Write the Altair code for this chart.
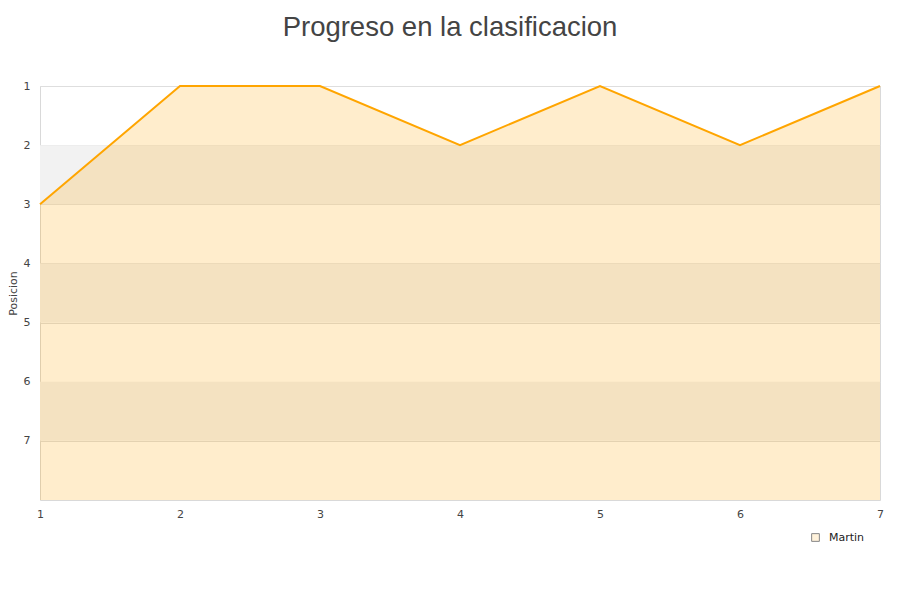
import altair as alt
import pandas as pd

jornadas = [1, 2, 3, 4, 5, 6, 7]
posiciones = [3, 1, 1, 2, 1, 2, 1]
jugador = "Martin"
band_starts = [2, 4, 6]
band_ends = [3, 5, 7]
y_ticks = [1, 2, 3, 4, 5, 6, 7]

df = pd.DataFrame({"jornada": jornadas, "posicion": posiciones})
bands = pd.DataFrame({"y1": band_starts, "y2": band_ends})
legend_df = pd.DataFrame({"jornada": [0], "posicion": [1], "jugador": [jugador]})

yscale = alt.Scale(domain=[1, 8], reverse=True, nice=False, zero=False)
xscale = alt.Scale(domain=[1, 7], nice=False, zero=False)

band_layer = alt.Chart(bands).mark_rect(color="#f2f2f2").encode(
    y=alt.Y("y1:Q", scale=yscale),
    y2="y2:Q",
    x=alt.value(0),
    x2=alt.value(840),
)

area = alt.Chart(df).mark_area(color="#ffa500", fillOpacity=0.2, line=False).encode(
    x=alt.X("jornada:Q", scale=xscale,
            axis=alt.Axis(values=jornadas, title=None, ticks=False, grid=False,
                          labelPadding=8, domain=False, format="d", labelFlush=False)),
    y=alt.Y("posicion:Q", scale=yscale,
            axis=alt.Axis(values=y_ticks, title="Posicion", ticks=False,
                          labelPadding=10, domain=False, format="d",
                          titlePadding=5, gridColor="#dedede")),
    y2=alt.datum(8),
)

line = alt.Chart(df).mark_line(color="#ffa500", strokeWidth=2).encode(
    x=alt.X("jornada:Q", scale=xscale),
    y=alt.Y("posicion:Q", scale=yscale),
)

legend_layer = alt.Chart(legend_df).mark_point(
    shape="square", filled=False, fill="#ffedcc", strokeWidth=1, clip=True
).encode(
    x=alt.X("jornada:Q", scale=xscale),
    y=alt.Y("posicion:Q", scale=yscale),
    stroke=alt.Stroke("jugador:N", scale=alt.Scale(range=["#555555"]),
                      legend=alt.Legend(title=None, orient="none", legendX=770, legendY=446,
                                        symbolType="square", symbolSize=60,
                                        symbolFillColor="#ffedcc",
                                        symbolStrokeWidth=1,
                                        labelOffset=8,
                                        labelFontSize=11, labelColor="#222",
                                        labelFont="DejaVu Sans")),
)

chart = alt.layer(band_layer, area, line, legend_layer).properties(
    width=840,
    height=414,
    autosize=alt.AutoSizeParams(type="none"),
    padding={"left": 32, "top": 78, "right": 12, "bottom": 86},
    title=alt.TitleParams("Progreso en la clasificacion", fontSize=27.5,
                          font="Liberation Sans", fontWeight="normal",
                          color="#444", anchor="middle", dx=-10, offset=39),
).configure_view(stroke="#d9d9d9").configure_axis(
    labelFont="DejaVu Sans", labelFontSize=11, labelColor="#444",
    titleFont="DejaVu Sans", titleFontSize=11, titleColor="#444",
    titleFontWeight="normal",
)

chart.save("out.html", embed_options={"renderer": "svg", "actions": False})
